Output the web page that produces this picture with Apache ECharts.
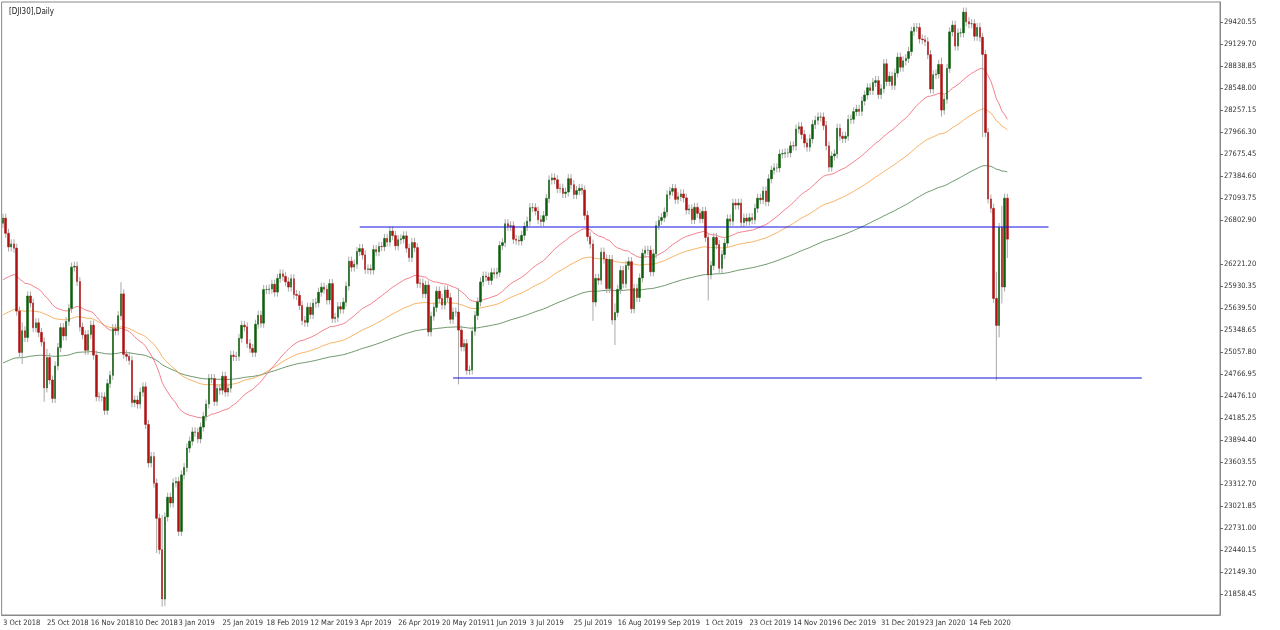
<!DOCTYPE html>
<html><head><meta charset="utf-8">
<script src="https://cdn.jsdelivr.net/npm/echarts@6/dist/echarts.min.js"></script>
<style>html,body{margin:0;padding:0;background:#fff}#c{width:1280px;height:630px}</style>
</head><body><div id="c"></div>
<script>
// Daily closes, 3 Oct 2018 .. 5 Mar 2020 (broker CFD calendar)
const closes = [
26828,26627,26447,26487,26431,25598,25052,25339,25250,25798,25706,25379,25444,25317,25191,24583,24984,24688,24443,24874,25116,
25380,25270,25462,25635,26180,26191,25989,25387,25286,25080,25289,25413,25017,24466,24464,24464,24286,24640,24749,25366,25339,25538,
25826,25027,25000,24947,24389,24423,24370,24527,24597,24100,23592,23675,23323,22859,22445,21792,22878,23138,23062,23327,
23346,22686,23433,23531,23787,23879,24001,23996,23910,24065,24207,24370,24706,24706,24404,24575,24553,24737,24528,24580,25014,24999,
25000,25239,25411,25390,25169,25106,25053,25425,25543,25439,25883,25883,25891,25954,25850,26031,26091,26057,25985,25916,
26026,25819,25806,25673,25473,25450,25650,25554,25702,25709,25848,25914,25887,25745,25962,25502,25516,25657,25625,25717,25929,
26258,26180,26218,26385,26425,26341,26150,26157,26143,26412,26384,26453,26450,26559,26511,26656,26597,26462,26543,26554,26593,
26430,26307,26505,26438,25965,25967,25829,25942,25324,25532,25648,25862,25764,25679,25877,25776,25490,25586,25586,25347,25126,25169,24815,
24820,25332,25540,25720,25984,26062,26048,26004,26107,26090,26112,26466,26504,26754,26720,26727,26548,26536,26526,26600,
26717,26787,26966,26966,26922,26806,26783,26860,27088,27332,27359,27335,27219,27223,27154,27172,27349,27270,27140,27192,27221,27198,26864,
26583,26485,25718,26030,26007,26378,26287,25897,26280,25480,25579,25886,26135,25962,26202,26252,25629,25898,25778,26036,26362,26403,
26403,26118,26355,26728,26797,26835,26909,27137,27182,27220,27076,27111,27147,27095,26935,26949,26808,26970,26891,26820,26917,
26573,26078,26201,26573,26478,26164,26346,26497,26817,26787,27025,27001,27026,26770,26828,26788,26833,26806,26958,27091,27071,27186,27046,
27347,27462,27492,27492,27675,27681,27691,27691,27784,27782,28005,28036,27934,27821,27767,27876,28066,28121,28164,28164,28051,
27783,27502,27649,27677,28015,27910,27881,27911,28132,28135,28235,28267,28239,28376,28455,28551,28515,28621,28645,28462,28538,
28868,28634,28703,28583,28745,28956,28823,28907,28939,29030,29297,29348,29348,29196,29186,29160,28989,28535,28723,28734,28859,28256,
28399,28807,29290,29379,29102,29276,29277,29551,29423,29398,29398,29232,29348,29219,28992,27960,27081,26957,25766,25409,
26703,25917,27091,26550
];
const firstOpen = 26760;
// notable wick extremes: [index, high, low]
const wicks = [
[58,22900,21690],[59,22900,21700],[43,25980,25600],[166,25900,24630],[215,26100,25470],[223,25700,25150],[257,26600,25740],
[342,28950,28170],[357,28950,27900],[362,26120,24680],[363,26710,25250],[364,26990,25700],[365,27100,26000],[366,27050,26300],
[7,25450,24900],[15,25100,24400],[16,25100,24550],[56,23250,22400]
];
const yTicks = [29420.55,29129.70,28838.85,28548.00,28257.15,27966.30,27675.45,27384.60,27093.75,26802.90,26221.20,25930.35,25639.50,25348.65,25057.80,24766.95,24476.10,24185.25,23894.40,23603.55,23312.70,23021.85,22731.00,22440.15,22149.30,21858.45];
const levelLines = [[130,381,26710],[164,415,24714]];
const maSeeds = {red:26010, orange:25547, green:24912};
const maPeriods = {red:50, orange:100, green:200};

const TOTAL = 444;
const mon = ['Jan','Feb','Mar','Apr','May','Jun','Jul','Aug','Sep','Oct','Nov','Dec'];
const cats = [];
{ let d = new Date(Date.UTC(2018,9,3));
  while (cats.length < TOTAL) {
    const wd = d.getUTCDay(), m = d.getUTCMonth(), dd = d.getUTCDate(), y = d.getUTCFullYear();
    const skip = wd===0||wd===6||(m===11&&dd===25)||(m===0&&dd===1)||(y===2019&&m===3&&dd===19);
    if (!skip) cats.push(dd+' '+mon[m]+' '+y);
    d = new Date(d.getTime()+86400000);
  } }

const wmap = {}; wicks.forEach(w=>wmap[w[0]]=w);
const bodies = [], wickData = [];
closes.forEach((c,i)=>{
  const o = i===0?firstOpen:closes[i-1];
  let hi = Math.max(o,c)+60, lo = Math.min(o,c)-60;
  if (wmap[i]) { hi = Math.max(hi,wmap[i][1]); lo = Math.min(lo,wmap[i][2]); }
  bodies.push([o,c,Math.min(o,c),Math.max(o,c)]);
  wickData.push([i,lo,hi]);
});
function ema(seed,p){ const k=2/(p+1); let v=seed; return closes.map((c,i)=>{ if(i>0) v=v+(c-v)*k; return +v.toFixed(1);}); }

const chart = echarts.init(document.getElementById('c'));
const F = '"Liberation Sans Narrow", "DejaVu Sans Condensed", "Liberation Sans", sans-serif';
chart.setOption({
  animation:false,
  title:{text:'[DJI30],Daily',left:4,top:3,textStyle:{fontSize:8,fontWeight:'normal',color:'#222',fontFamily:F}},
  grid:{left:0,right:60,top:2,bottom:15,show:true,borderColor:'#888',borderWidth:1},
  xAxis:{type:'category',data:cats,boundaryGap:true,
    axisLine:{lineStyle:{color:'#888'}},
    axisTick:{interval:(i)=>i%16===0 && i<closes.length,length:3,lineStyle:{color:'#666'}},
    axisLabel:{interval:(i)=>i%16===0 && i<closes.length,fontSize:7.5,color:'#333',fontFamily:F,margin:4,align:'left'},
    splitLine:{show:false}},
  yAxis:{type:'value',position:'right',min:21580.8,max:29684.9,scale:true,
    axisLine:{show:true,lineStyle:{color:'#888'}},
    axisTick:{show:true,length:3,customValues:yTicks,lineStyle:{color:'#666'}},
    axisLabel:{customValues:yTicks,fontSize:7.5,color:'#333',fontFamily:F,margin:4,formatter:v=>v.toFixed(2)},
    splitLine:{show:false}},
  series:[
    {type:'line',data:ema(maSeeds.green,maPeriods.green),symbol:'none',lineStyle:{color:'#4a7d4a',width:0.8},z:2},
    {type:'line',data:ema(maSeeds.orange,maPeriods.orange),symbol:'none',lineStyle:{color:'#f5a040',width:0.8},z:2},
    {type:'line',data:ema(maSeeds.red,maPeriods.red),symbol:'none',lineStyle:{color:'#f06070',width:0.8},z:2},
    {type:'custom',data:wickData,z:3,renderItem:(p,api)=>{
      const a=api.coord([api.value(0),api.value(1)]), b=api.coord([api.value(0),api.value(2)]);
      return {type:'line',shape:{x1:a[0],y1:a[1],x2:b[0],y2:b[1]},style:{stroke:'#a8a8a8',lineWidth:1}};
    }},
    {type:'candlestick',data:bodies,barWidth:2,z:4,
      itemStyle:{color:'#0b5e0b',color0:'#b01010',borderColor:'#0b5e0b',borderColor0:'#b01010',borderWidth:0.5}},
    {type:'custom',data:levelLines,z:6,renderItem:(p,api)=>{
      const a=api.coord([api.value(0),api.value(2)]), b=api.coord([api.value(1),api.value(2)]);
      return {type:'line',shape:{x1:a[0],y1:a[1],x2:b[0],y2:b[1]},style:{stroke:'#1010e0',lineWidth:1.2}};
    }}
  ]
});
</script></body></html>
